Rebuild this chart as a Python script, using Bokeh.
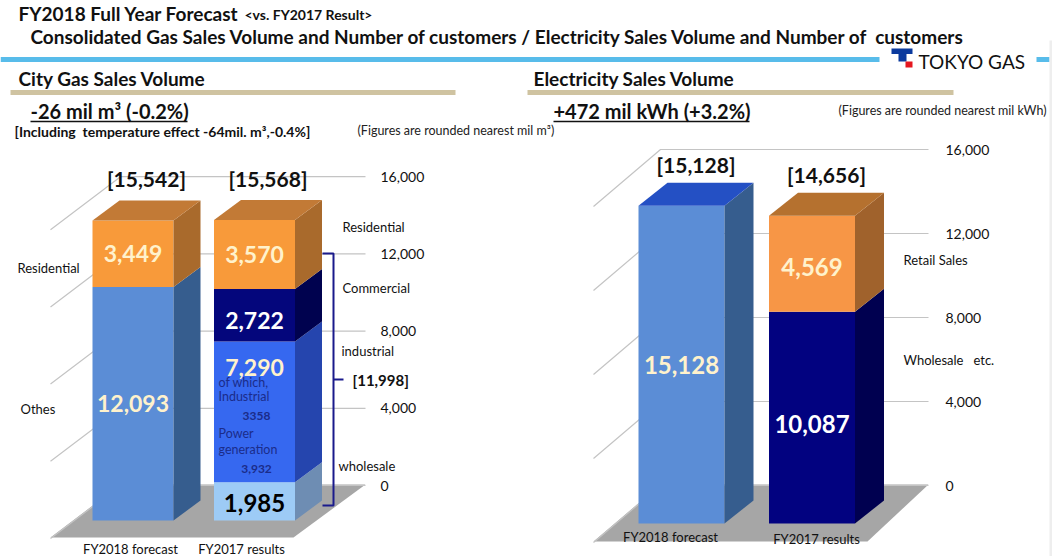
from bokeh.plotting import figure
from bokeh.models import Range1d, ColumnDataSource
from bokeh.core.properties import value
from bokeh.embed import file_html
from bokeh.resources import INLINE

# ---------------- data ----------------
bar_categories = ["FY2018 forecast", "FY2017 results"]

gas_fy18_segments = ["Othes", "Residential"]
gas_fy18_values = [12093, 3449]
gas_fy17_segments = ["wholesale", "industrial", "Commercial", "Residential"]
gas_fy17_values = [1985, 7290, 2722, 3570]
gas_totals = [15542, 15568]
gas_bracket_total = 11998
gas_industrial_of_which = ["3358", "3,932"]
gas_ticks = [0, 4000, 8000, 12000, 16000]

elec_fy18_segments = ["Total"]
elec_fy18_values = [15128]
elec_fy17_segments = ["Wholesale   etc.", "Retail Sales"]
elec_fy17_values = [10087, 4569]
elec_totals = [15128, 14656]
elec_ticks = [0, 4000, 8000, 12000, 16000]

# ---------------- figure ----------------
FONT = "Lato"
FW, FH = 1052, 556
p = figure(width=FW, height=FH, x_range=Range1d(0, FW), y_range=Range1d(FH, 0),
           output_backend="svg", toolbar_location=None, x_axis_type=None, y_axis_type=None,
           min_border=0)
p.outline_line_color = None
p.background_fill_color = "white"
p.border_fill_color = "white"


def txt(x, y, s, size, color="#000000", bold=False, align="left", yname="default"):
    s = s.replace("  ", " \u00a0")
    p.text(x=[x], y=[y], text=[s], text_font=value(FONT), text_font_size=f"{size}px",
           text_font_style="bold" if bold else "normal", text_color=color,
           text_align=align, text_baseline="middle", y_range_name=yname)


def fmt(v):
    return f"{v:,}"


# panel geometry (pixel layout)
GAS = dict(yname="gy", y0=520, ppu=0.0193, centers=[132.5, 254], w=81, ddx=27, ddy=20,
           back=35, floor_front=537, floor_back=484, floor_xs=(50, 293, 365, 120),
           diag=53, grid_x=(120, 365), tick_x=380)
ELEC = dict(yname="ey", y0=523, ppu=0.021, centers=[681, 811.5], w=86, ddx=29, ddy=23,
            back=38, floor_front=541, floor_back=484, floor_xs=(593, 867, 928, 660),
            diag=57, grid_x=(660, 928), tick_x=945)

for g in (GAS, ELEC):
    p.extra_y_ranges[g["yname"]] = Range1d(start=(g["y0"] - FH) / g["ppu"],
                                           end=(g["y0"] - 0) / g["ppu"])


def px2v(g, ypx):
    return (g["y0"] - ypx) / g["ppu"]


def walls(g, ticks):
    yn = g["yname"]
    ppu = g["ppu"]
    fx = g["floor_xs"]
    fy_front = px2v(g, g["floor_front"])
    fy_back = px2v(g, g["floor_back"])
    p.patch([fx[0], fx[1], fx[2], fx[3]], [fy_front, fy_front, fy_back, fy_back],
            fill_color="#A6A6A6", line_color=None, y_range_name=yn)
    back = g["back"] / ppu
    diag = g["diag"] / ppu
    xs, ys = [], []
    for t in ticks:
        xs.append([fx[0], g["grid_x"][0], g["grid_x"][1]])
        ys.append([t + back - diag, t + back, t + back])
    p.multi_line(xs, ys, line_color="#C4C4C4", line_width=1.2, y_range_name=yn)
    for t in ticks:
        txt(g["tick_x"], t + back, fmt(t), 14, "#111111", yname=yn)


def stack_bar(g, i, vals, fronts, sides, top_color, label_colors, label_shift, label_size):
    """label_shift: screen pixels, positive = downward from the segment middle"""
    yn = g["yname"]
    ppu = g["ppu"]
    cx = g["centers"][i]
    w = g["w"]
    ddx = g["ddx"]
    dy = g["ddy"] / ppu
    bottoms, tops = [], []
    acc = 0
    for v in vals:
        bottoms.append(acc)
        acc += v
        tops.append(acc)
    n = len(vals)
    src = ColumnDataSource(dict(left=[cx - w / 2] * n, right=[cx + w / 2] * n,
                                bottom=bottoms, top=tops, color=fronts))
    p.quad(left="left", right="right", bottom="bottom", top="top", fill_color="color",
           line_color=None, source=src, y_range_name=yn)
    r = cx + w / 2
    sx = [[r, r + ddx, r + ddx, r] for _ in vals]
    sy = [[b, b + dy, t + dy, t] for b, t in zip(bottoms, tops)]
    p.patches(sx, sy, fill_color=sides, line_color=None, y_range_name=yn)
    T = tops[-1]
    l = cx - w / 2
    p.patch([l, l + ddx, r + ddx, r], [T, T + dy, T + dy, T], fill_color=top_color,
            line_color=None, y_range_name=yn)
    for v, b, c, sh, sz in zip(vals, bottoms, label_colors, label_shift, label_size):
        txt(cx, b + v / 2 - sh / ppu, fmt(v), sz, c, bold=True, align="center", yname=yn)
    return T


# ---------------- header ----------------
txt(18, 13, "FY2018 Full Year Forecast", 19, "#111111", bold=True)
txt(244, 14, "<vs. FY2017 Result>", 14, "#111111", bold=True)
txt(30, 36, "Consolidated Gas Sales Volume and Number of customers / Electricity Sales Volume and Number of  customers",
    19, "#111111", bold=True)
p.segment(x0=[0, 1036], y0=[59, 59], x1=[879, 1049], y1=[59, 59], line_color="#58BCEA", line_width=5)
p.quad(left=[1049], right=[1052], top=[40], bottom=[556], fill_color="#EEEEEE", line_color=None)
# logo
p.quad(left=[891], right=[912], top=[48], bottom=[53.5], fill_color="#0B3A9E", line_color=None)
p.quad(left=[898], right=[906], top=[53], bottom=[61], fill_color="#0B3A9E", line_color=None)
p.quad(left=[905], right=[912], top=[61], bottom=[67], fill_color="#E5171F", line_color=None)
txt(918, 61, "TOKYO GAS", 19, "#111111")

txt(18, 78, "City Gas Sales Volume", 19, "#111111", bold=True)
txt(533, 78, "Electricity Sales Volume", 19, "#111111", bold=True)
p.segment(x0=[10, 527], y0=[92, 92], x1=[455, 953], y1=[92, 92], line_color="#CFC3A1", line_width=5)

txt(30, 110, "-26 mil m³ (-0.2%)", 20, "#111111", bold=True)
p.segment(x0=[30], y0=[121], x1=[187], y1=[121], line_color="#111111", line_width=1.5)
txt(14, 131, "[Including  temperature effect -64mil. m³,-0.4%]", 14, "#111111", bold=True)
txt(357, 130, "(Figures are rounded nearest mil m³)", 12.5, "#222222")

txt(553, 110, "+472 mil kWh (+3.2%)", 20, "#111111", bold=True)
p.segment(x0=[553], y0=[121], x1=[749], y1=[121], line_color="#111111", line_width=1.5)
txt(838, 110, "(Figures are rounded nearest mil kWh)", 12.5, "#222222")

# ---------------- gas panel ----------------
walls(GAS, gas_ticks)
stack_bar(GAS, 0, gas_fy18_values, ["#5B8DD6", "#F89A3A"], ["#365D8E", "#A96A2C"], "#C27A36",
          ["#FFF2CC", "#FFF2CC"], [0, 0], [23, 23])
stack_bar(GAS, 1, gas_fy17_values, ["#9DCBF6", "#3668F0", "#04067C", "#F89A3A"],
          ["#6E8DB3", "#2545AE", "#00024F", "#A96A2C"], "#C27A36",
          ["#000000", "#FFF2CC", "#FFFFFF", "#FFF2CC"], [2, -44, 5, 0], [24, 23, 23, 23])
gppu = GAS["ppu"]
for i, tot in enumerate(gas_totals):
    txt(GAS["centers"][i] + GAS["ddx"] / 2, tot + 42 / gppu, f"[{fmt(tot)}]", 21, "#111111",
        bold=True, align="center", yname="gy")

# industrial breakdown text
dk = "#1B2C8A"
txt(218, 382, "of which,", 12.5, dk)
txt(218, 396, "Industrial", 12.5, dk)
txt(256, 415, gas_industrial_of_which[0], 12, dk, bold=True, align="center")
txt(218, 433, "Power", 12.5, dk)
txt(218, 449, "generation", 12.5, dk)
txt(256, 468, gas_industrial_of_which[1], 12, dk, bold=True, align="center")

# segment labels
txt(17, 267, gas_fy18_segments[1], 13, "#111111")
txt(20, 408, gas_fy18_segments[0], 13, "#111111")
txt(342, 226, gas_fy17_segments[3], 13, "#111111")
txt(342, 287, gas_fy17_segments[2], 13, "#111111")
txt(341, 350, gas_fy17_segments[1], 13, "#111111")
txt(338, 465, gas_fy17_segments[0], 13, "#111111")
txt(352, 379, f"[{fmt(gas_bracket_total)}]", 15, "#111111", bold=True)
# bracket
p.line([322, 333, 333, 322], [253, 253, 505, 505], line_color="#1A1A8C", line_width=2)
p.line([333, 343], [379, 379], line_color="#1A1A8C", line_width=2)

txt(130, 548, bar_categories[0], 13, "#111111", align="center")
txt(241, 548, bar_categories[1], 13, "#111111", align="center")

# ---------------- electricity panel ----------------
walls(ELEC, elec_ticks)
stack_bar(ELEC, 0, elec_fy18_values, ["#5B8DD6"], ["#365D8E"], "#2450C4",
          ["#FFF2CC"], [0], [24])
stack_bar(ELEC, 1, elec_fy17_values, ["#020280", "#F79646"], ["#000050", "#A0622C"], "#B5712F",
          ["#FFFFFF", "#FFF2CC"], [6, 3], [24, 24])
eppu = ELEC["ppu"]
for i, tot in enumerate(elec_totals):
    txt(ELEC["centers"][i] + ELEC["ddx"] / 2, tot + 41 / eppu, f"[{fmt(tot)}]", 21, "#111111",
        bold=True, align="center", yname="ey")

txt(903, 259, elec_fy17_segments[1], 13, "#111111")
txt(903, 359, elec_fy17_segments[0], 13, "#111111")
txt(670, 536, bar_categories[0], 13, "#111111", align="center")
txt(816, 538, bar_categories[1], 13, "#111111", align="center")

open("out.html", "w").write(file_html(p, INLINE))
